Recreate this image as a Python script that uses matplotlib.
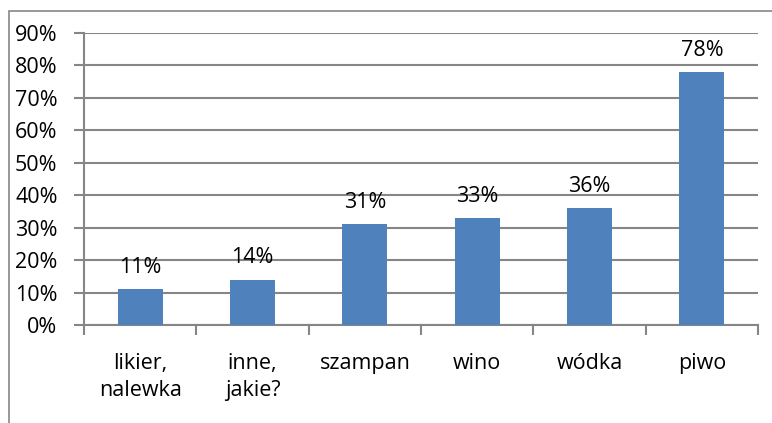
import matplotlib.pyplot as plt
from matplotlib.patches import Rectangle

# Data
categories = ['likier,\nnalewka', 'inne,\njakie?', 'szampan', 'wino', 'wódka', 'piwo']
values = [11, 14, 31, 33, 36, 78]
yticks = [0, 10, 20, 30, 40, 50, 60, 70, 80, 90]

plt.rcParams['font.family'] = ['Open Sans', 'DejaVu Sans']
grid_col = '#868686'
bar_col = '#4F81BD'
fs = 15.5

fig = plt.figure(figsize=(7.72, 4.23), dpi=100)
ax = fig.add_axes([84 / 772, 1 - 325 / 423, (758 - 84) / 772, (325 - 33) / 423])

x = list(range(len(categories)))
bars = ax.bar(x, values, width=0.4, color=bar_col, zorder=3)

for xi, v in zip(x, values):
    ax.annotate(f'{v}%', (xi, v), xytext=(0, 8), textcoords='offset points',
                ha='center', va='bottom', fontsize=fs)

ax.set_xlim(-0.5, len(categories) - 0.5)
ax.set_ylim(0, 90)
ax.set_yticks(yticks)
ax.set_yticklabels([f'{t}%' for t in yticks], fontsize=fs)
ax.yaxis.grid(True, color=grid_col, linewidth=1.5, zorder=0)
ax.tick_params(axis='y', length=7, width=1.5, color=grid_col, pad=12)

# category labels centered, ticks at boundaries
ax.set_xticks(x)
ax.set_xticklabels(categories, fontsize=fs, linespacing=1.4)
ax.tick_params(axis='x', length=0, pad=20)
ax.set_xticks([i - 0.5 for i in range(len(categories) + 1)], minor=True)
ax.tick_params(axis='x', which='minor', length=7, width=1.5, color=grid_col)

for side in ['top', 'right']:
    ax.spines[side].set_visible(False)
for side in ['left', 'bottom']:
    ax.spines[side].set_color(grid_col)
    ax.spines[side].set_linewidth(1.5)

# chart border (cropped on right and bottom)
fig.patches.append(Rectangle((8.5 / 772, -0.05), 1.1, 1 - 11 / 423 + 0.05,
                             transform=fig.transFigure, fill=False,
                             edgecolor=grid_col, linewidth=1.2))

fig.savefig('out.png', dpi=100)
